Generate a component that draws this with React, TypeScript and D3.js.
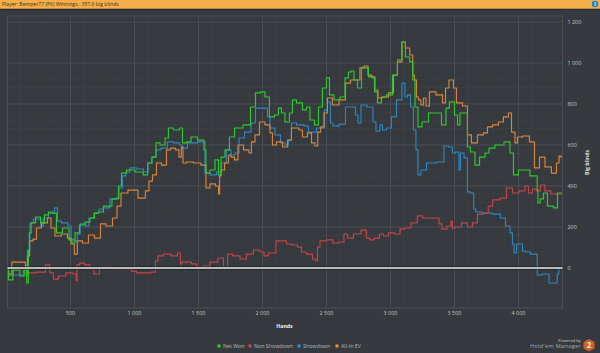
import React from "react";
import * as d3 from "d3";

type P = [number, number];

const netWon: P[] = [[10,0],[20,-58],[80,-10],[130,-39],[145,-10],[170,-73],[172,88],[185,171],[200,220],[255,249],[277,220],[316,259],[340,273],[379,268],[402,171],[473,195],[504,137],[520,122],[551,171],[590,210],[637,224],[668,244],[707,268],[730,273],[785,302],[863,337],[887,400],[910,463],[965,478],[1043,468],[1094,454],[1113,512],[1160,541],[1176,610],[1223,600],[1254,634],[1277,683],[1332,673],[1371,683],[1379,610],[1434,615],[1449,639],[1535,624],[1551,576],[1566,463],[1613,478],[1645,527],[1668,454],[1684,541],[1730,576],[1754,639],[1809,683],[1887,698],[1926,785],[1965,854],[2004,859],[2035,834],[2074,737],[2113,746],[2137,780],[2160,756],[2191,712],[2230,756],[2238,820],[2293,805],[2332,771],[2355,785],[2387,722],[2426,698],[2449,785],[2488,878],[2512,927],[2535,844],[2582,820],[2629,834],[2660,927],[2684,956],[2707,961],[2723,917],[2762,878],[2785,976],[2816,976],[2840,932],[2871,927],[2879,859],[2918,805],[2941,834],[2996,844],[3035,941],[3074,1015],[3105,1102],[3129,1029],[3172,1005],[3176,917],[3207,785],[3223,688],[3270,712],[3324,756],[3371,756],[3426,698],[3441,780],[3480,810],[3520,746],[3527,698],[3559,756],[3598,756],[3605,590],[3645,566],[3676,502],[3715,541],[3762,561],[3777,585],[3855,600],[3918,615],[3949,561],[3973,454],[4027,478],[4066,478],[4113,449],[4145,449],[4148,385],[4156,317],[4184,337],[4207,366],[4246,302],[4301,293],[4309,366],[4340,366]];

const nonShowdown: P[] = [[14,-15],[27,-39],[78,-5],[184,-24],[285,-20],[324,15],[355,-24],[379,-54],[433,-39],[496,-24],[543,-29],[548,-63],[553,15],[590,24],[629,15],[676,-5],[691,-29],[723,-29],[730,-5],[769,5],[863,-5],[949,-5],[1004,-15],[1027,-24],[1098,-24],[1160,-20],[1168,34],[1199,59],[1254,68],[1316,59],[1355,73],[1363,20],[1379,29],[1434,29],[1457,20],[1512,5],[1566,10],[1613,29],[1691,49],[1699,0],[1723,0],[1733,68],[1801,59],[1848,44],[1902,68],[1957,88],[2004,78],[2020,59],[2074,73],[2137,132],[2176,132],[2199,117],[2254,112],[2293,102],[2317,78],[2371,68],[2410,44],[2426,34],[2434,102],[2465,132],[2535,137],[2566,122],[2629,127],[2645,166],[2684,146],[2738,166],[2801,185],[2824,146],[2855,137],[2894,146],[2934,166],[2957,156],[3012,171],[3059,166],[3090,190],[3129,195],[3191,220],[3230,254],[3270,244],[3371,244],[3387,215],[3418,190],[3465,205],[3480,229],[3488,195],[3527,200],[3582,220],[3621,200],[3660,220],[3699,263],[3762,268],[3766,302],[3832,332],[3879,341],[3934,390],[3973,366],[4035,376],[4066,400],[4090,366],[4129,385],[4152,376],[4191,405],[4223,376],[4285,361],[4340,361]];

const showdown: P[] = [[15,-34],[160,-34],[168,88],[199,220],[223,239],[262,239],[275,205],[301,244],[355,268],[394,293],[402,229],[457,220],[504,205],[505,141],[551,132],[555,166],[598,215],[637,205],[652,244],[715,268],[730,288],[785,293],[832,337],[871,341],[887,390],[926,449],[941,468],[988,488],[1043,483],[1098,468],[1113,512],[1160,541],[1176,576],[1238,585],[1277,615],[1332,610],[1371,600],[1379,585],[1449,610],[1535,615],[1566,463],[1613,454],[1668,468],[1691,512],[1746,576],[1762,551],[1809,561],[1824,634],[1895,663],[1926,707],[1965,780],[2035,780],[2043,737],[2074,683],[2121,649],[2160,610],[2191,600],[2215,624],[2238,707],[2293,698],[2355,693],[2363,663],[2480,683],[2488,771],[2527,810],[2535,707],[2566,693],[2629,702],[2668,785],[2723,785],[2731,746],[2762,707],[2777,795],[2855,785],[2871,712],[2902,668],[2934,698],[2941,673],[2996,683],[3020,737],[3074,820],[3105,902],[3121,834],[3145,844],[3168,785],[3191,673],[3207,576],[3223,454],[3254,478],[3309,512],[3410,517],[3426,595],[3480,590],[3488,561],[3527,566],[3543,478],[3551,561],[3598,537],[3605,371],[3645,366],[3656,288],[3676,273],[3754,268],[3840,263],[3879,244],[3918,205],[3949,171],[3957,117],[3973,73],[3996,117],[4027,117],[4035,83],[4074,78],[4113,68],[4145,68],[4148,-34],[4223,-29],[4254,-73],[4301,-73],[4305,-29],[4325,-5],[4340,-5]];

const allInEV: P[] = [[10,-29],[74,29],[137,29],[158,10],[170,59],[191,132],[223,141],[246,195],[301,220],[340,244],[355,195],[402,156],[457,166],[496,146],[512,117],[548,68],[559,132],[629,122],[652,161],[723,146],[746,215],[809,205],[848,244],[879,302],[910,366],[988,380],[1066,341],[1105,376],[1121,424],[1160,454],[1184,512],[1238,502],[1262,576],[1301,585],[1340,576],[1355,541],[1377,590],[1381,512],[1434,517],[1488,512],[1551,502],[1566,390],[1613,410],[1652,400],[1662,361],[1668,449],[1684,478],[1723,512],[1746,551],[1762,541],[1801,527],[1816,600],[1887,576],[1902,561],[1926,615],[1957,649],[1996,712],[2043,698],[2074,659],[2082,600],[2137,615],[2176,590],[2215,624],[2238,683],[2277,683],[2293,673],[2332,639],[2371,659],[2395,610],[2426,595],[2437,663],[2473,688],[2488,756],[2527,829],[2566,795],[2629,820],[2668,902],[2707,917],[2746,917],[2777,976],[2809,985],[2840,941],[2871,932],[2887,868],[2918,829],[2957,834],[3012,854],[3035,941],[3074,1005],[3105,1102],[3129,1073],[3172,1039],[3176,941],[3199,917],[3207,834],[3230,820],[3246,795],[3270,829],[3285,790],[3324,859],[3387,844],[3426,805],[3434,878],[3480,917],[3504,878],[3527,805],[3598,790],[3605,649],[3660,610],[3699,649],[3754,659],[3762,688],[3832,698],[3855,712],[3910,737],[3934,756],[3957,663],[3988,610],[3996,639],[4066,644],[4105,615],[4145,488],[4184,541],[4230,493],[4285,463],[4309,512],[4325,546],[4340,541]];

const xTicks = [500, 1000, 1500, 2000, 2500, 3000, 3500, 4000];
const yTicks = [0, 200, 400, 600, 800, 1000, 1200];
const xMinor = d3.range(100, 4340, 100);
const yMinor = d3.range(-160, 1220, 40);
const legendItems = ["Net Won", "Non Showdown", "Showdown", "All-In EV"];
const legendColors = ["#2fd62f", "#d8434a", "#2f94d8", "#f0912f"];
const legendX = [219, 250, 299, 337];
const title = "Player: Bemper77 (P6) Winnings : 357,6 big blinds";

const W = 600, H = 353;
const L = 7.5, R = 562.5, T = 16, B = 308;
const FONT = "'Open Sans', 'DejaVu Sans', sans-serif";

export default function App() {
  const x = d3.scaleLinear().domain([8, 4344]).range([L, R]);
  const y = d3.scaleLinear().domain([-195, 1229]).range([B, T]);
  const line = d3.line<P>().x(d => x(d[0])).y(d => y(d[1])).curve(d3.curveStep);
  const fmt = (v: number) => (v >= 1000 ? `${Math.floor(v / 1000)} ${String(v % 1000).padStart(3, "0")}` : `${v}`);

  const series: [P[], string][] = [
    [showdown, "#2f86bd"],
    [nonShowdown, "#c4444c"],
    [allInEV, "#d9863a"],
    [netWon, "#2ec92e"],
  ];

  return (
    <svg width={W} height={H} viewBox={`0 0 ${W} ${H}`} style={{ position: "absolute", left: 0, top: 0, display: "block" }} fontFamily={FONT}>
      <rect width={W} height={H} fill="#363a3e" />
      <rect width={W} height={8} fill="#f5ae4a" />
      <rect y={8} width={W} height={1} fill="#b58a45" />
      <rect y={9} width={W} height={1} fill="#2b2d30" />
      <text x={2} y={6.2} fontSize={5.1} fill="#3a2f1c">{title}</text>
      <circle cx={595} cy={4} r={3.2} fill="#2a7fc4" />
      <text x={595} y={6.2} fontSize={5.5} fill="#fff" fontWeight={700} textAnchor="middle">i</text>

      {xMinor.map(v => <line key={"xm" + v} x1={x(v)} x2={x(v)} y1={T} y2={B} stroke="#3e4246" strokeWidth={0.7} />)}
      {yMinor.map(v => <line key={"ym" + v} x1={L} x2={R} y1={y(v)} y2={y(v)} stroke="#3e4246" strokeWidth={0.7} />)}
      {xTicks.map(v => <line key={"xg" + v} x1={x(v)} x2={x(v)} y1={T} y2={B} stroke="#4a4e53" strokeWidth={1} />)}
      {yTicks.map(v => <line key={"yg" + v} x1={L} x2={R} y1={y(v)} y2={y(v)} stroke="#4a4e53" strokeWidth={1} />)}
      <rect x={L} y={T} width={R - L} height={B - T} fill="none" stroke="#4a4e53" strokeWidth={1} />

      {series.map(([d, c], i) => (
        <path key={i} d={line(d) ?? ""} fill="none" stroke={c} strokeWidth={1.15} strokeLinejoin="round" />
      ))}

      <line x1={L} x2={R} y1={y(0)} y2={y(0)} stroke="#17181a" strokeWidth={3} />
      <line x1={L} x2={R} y1={y(0)} y2={y(0)} stroke="#f2f2f2" strokeWidth={1.5} />

      {xTicks.map(v => (
        <text key={"xt" + v} x={x(v)} y={315} fontSize={5.4} fill="#c2c4c6" textAnchor="middle">{fmt(v)}</text>
      ))}
      {yTicks.map(v => (
        <text key={"yt" + v} x={567.5} y={y(v) + 2} fontSize={5.4} fill="#c2c4c6">{fmt(v)}</text>
      ))}
      <text x={284.5} y={328} fontSize={5.2} fontWeight={700} fill="#f0f0f0" textAnchor="middle">Hands</text>
      <text transform="translate(589,162.5) rotate(-90)" fontSize={5.2} fontWeight={700} fill="#e0e0e0" textAnchor="middle">Big blinds</text>

      {legendItems.map((s, i) => (
        <g key={s}>
          <rect x={legendX[i] - 1.5} y={344.5} width={3} height={3} fill={legendColors[i]} />
          <text x={legendX[i] + 4} y={348.3} fontSize={5.3} fill="#b6b8ba">{s}</text>
        </g>
      ))}

      <text x={581} y={341.5} fontSize={4} fill="#b0b2b4" textAnchor="end" fontWeight={600}>Powered by</text>
      <text x={581} y={348} fontSize={5.6} fill="#a8aaac" textAnchor="end" letterSpacing={0.3}>Hold'em Manager</text>
      <path d="M589 339 L594.5 342 L594.5 348.5 L589 351.5 L583.5 348.5 L583.5 342 Z" fill="#c9622a" />
      <text x={589} y={348.2} fontSize={8} fontWeight={700} fill="#f4e6da" textAnchor="middle">2</text>
    </svg>
  );
}
